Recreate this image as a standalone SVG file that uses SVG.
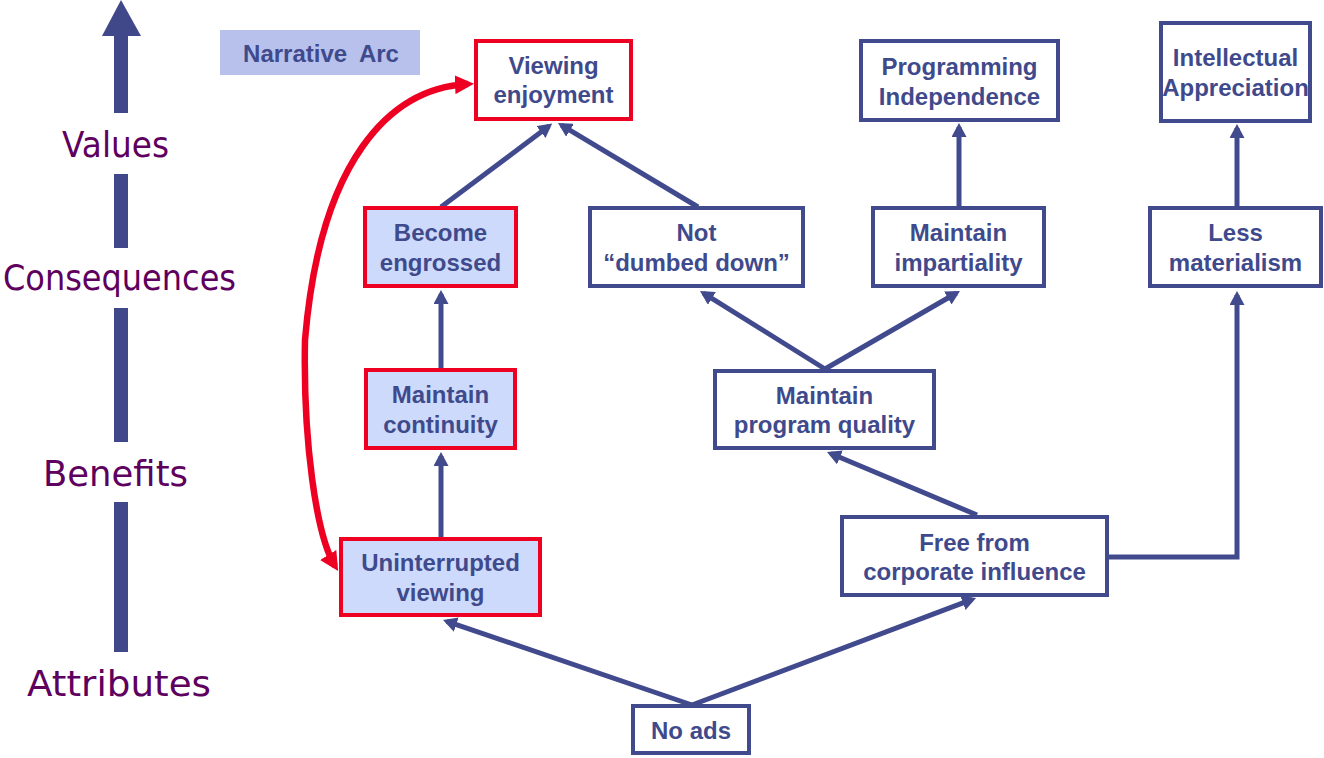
<svg xmlns="http://www.w3.org/2000/svg" width="1324" height="758" viewBox="0 0 1324 758">
  <style>
    .box { fill: #ffffff; stroke: #424a8e; stroke-width: 4; }
    .hot { fill: #cddafb; stroke: #ee0022; stroke-width: 4; }
    .hotw { fill: #ffffff; stroke: #ee0022; stroke-width: 4; }
    .lbl { font-family: "Liberation Sans", Arial, sans-serif; font-weight: bold; font-size: 24px; fill: #3f4a8c; text-anchor: middle; }
    .lvl { font-family: "DejaVu Sans", sans-serif; font-size: 35px; fill: #5e005e; }
    .axis { fill: #414889; }
    .link { fill: none; stroke: #424a8e; stroke-width: 5; marker-end: url(#tip); }
    .arc { fill: none; stroke: #ee0022; stroke-width: 6.5; marker-start: url(#redtip); marker-end: url(#redtip); }
  </style>
  <defs>
    <marker id="tip" viewBox="0 0 14 15" refX="10" refY="7.5" markerWidth="14" markerHeight="15" markerUnits="userSpaceOnUse" orient="auto">
      <path d="M0,0 L14,7.5 L0,15 Z" fill="#424a8e"/>
    </marker>
    <marker id="redtip" viewBox="0 0 19 19" refX="13" refY="9.5" markerWidth="19" markerHeight="19" markerUnits="userSpaceOnUse" orient="auto-start-reverse">
      <path d="M0,0 L19,9.5 L0,19 Z" fill="#ee0022"/>
    </marker>
  </defs>

  <!-- level axis on the left -->
  <g id="axis">
    <polygon class="axis" points="121,0 141,36 102,36"/>
    <rect class="axis" x="114" y="35" width="14" height="78"/>
    <rect class="axis" x="114" y="174" width="14" height="74"/>
    <rect class="axis" x="114" y="308" width="14" height="134"/>
    <rect class="axis" x="114" y="502" width="14" height="150"/>
    <text class="lvl" x="62" y="157" textLength="107" lengthAdjust="spacingAndGlyphs">Values</text>
    <text class="lvl" x="3" y="290" textLength="233" lengthAdjust="spacingAndGlyphs">Consequences</text>
    <text class="lvl" x="43" y="486" textLength="145" lengthAdjust="spacingAndGlyphs">Benefits</text>
    <text class="lvl" x="27" y="696" textLength="184" lengthAdjust="spacingAndGlyphs">Attributes</text>
  </g>

  <!-- legend tag -->
  <g id="narrative-arc">
    <rect x="220" y="30" width="200" height="45" fill="#b7c1ec"/>
    <text class="lbl" x="321" y="62" word-spacing="6">Narrative Arc</text>
  </g>

  <!-- connectors -->
  <g id="connectors">
    <line class="link" x1="441" y1="207" x2="549" y2="126"/>
    <line class="link" x1="698" y1="207" x2="561.4" y2="125.1"/>
    <line class="link" x1="959" y1="207" x2="959" y2="127"/>
    <line class="link" x1="1237" y1="207" x2="1237" y2="128"/>
    <line class="link" x1="441" y1="369" x2="441" y2="294"/>
    <line class="link" x1="441" y1="537" x2="441" y2="456"/>
    <line class="link" x1="825" y1="369" x2="703.4" y2="293.1"/>
    <line class="link" x1="825" y1="369" x2="956.5" y2="293"/>
    <line class="link" x1="977" y1="515" x2="830.7" y2="453.5"/>
    <line class="link" x1="692" y1="705" x2="446.8" y2="621.3"/>
    <line class="link" x1="692" y1="705" x2="972.3" y2="599.4"/>
    <polyline class="link" points="1109,557 1237,557 1237,295"/>
    <path class="arc" d="M468,84 C390,88 320,160 305,340 C303,440 316,535 335,566"/>
  </g>

  <!-- nodes -->
  <g id="viewing-enjoyment">
    <rect class="hotw" x="476" y="41" width="155" height="78"/>
    <text class="lbl" x="553.5" y="74">Viewing</text>
    <text class="lbl" x="553.5" y="103">enjoyment</text>
  </g>
  <g id="programming-independence">
    <rect class="box" x="861" y="41" width="197" height="79"/>
    <text class="lbl" x="959.5" y="75">Programming</text>
    <text class="lbl" x="959.5" y="104.5">Independence</text>
  </g>
  <g id="intellectual-appreciation">
    <rect class="box" x="1161" y="23" width="149" height="98"/>
    <text class="lbl" x="1235.5" y="66">Intellectual</text>
    <text class="lbl" x="1235.5" y="95.5">Appreciation</text>
  </g>
  <g id="become-engrossed">
    <rect class="hot" x="365" y="208" width="151" height="78"/>
    <text class="lbl" x="440.5" y="241">Become</text>
    <text class="lbl" x="440.5" y="270.5">engrossed</text>
  </g>
  <g id="not-dumbed-down">
    <rect class="box" x="590" y="208" width="213" height="78"/>
    <text class="lbl" x="696.5" y="241">Not</text>
    <text class="lbl" x="696.5" y="270.5">“dumbed down”</text>
  </g>
  <g id="maintain-impartiality">
    <rect class="box" x="873" y="208" width="171" height="78"/>
    <text class="lbl" x="958.5" y="241">Maintain</text>
    <text class="lbl" x="958.5" y="270.5">impartiality</text>
  </g>
  <g id="less-materialism">
    <rect class="box" x="1150" y="208" width="171" height="78"/>
    <text class="lbl" x="1235.5" y="241">Less</text>
    <text class="lbl" x="1235.5" y="270.5">materialism</text>
  </g>
  <g id="maintain-continuity">
    <rect class="hot" x="366" y="370" width="149" height="78"/>
    <text class="lbl" x="440.5" y="403">Maintain</text>
    <text class="lbl" x="440.5" y="432.5">continuity</text>
  </g>
  <g id="maintain-program-quality">
    <rect class="box" x="715" y="371" width="219" height="77"/>
    <text class="lbl" x="824.5" y="403.5">Maintain</text>
    <text class="lbl" x="824.5" y="433">program quality</text>
  </g>
  <g id="uninterrupted-viewing">
    <rect class="hot" x="341" y="539" width="199" height="76"/>
    <text class="lbl" x="440.5" y="571">Uninterrupted</text>
    <text class="lbl" x="440.5" y="600.5">viewing</text>
  </g>
  <g id="free-from-corporate-influence">
    <rect class="box" x="842" y="517" width="265" height="78"/>
    <text class="lbl" x="974.5" y="550.5">Free from</text>
    <text class="lbl" x="974.5" y="580">corporate influence</text>
  </g>
  <g id="no-ads">
    <rect class="box" x="633" y="706" width="116" height="47"/>
    <text class="lbl" x="691" y="738.5">No ads</text>
  </g>
</svg>
